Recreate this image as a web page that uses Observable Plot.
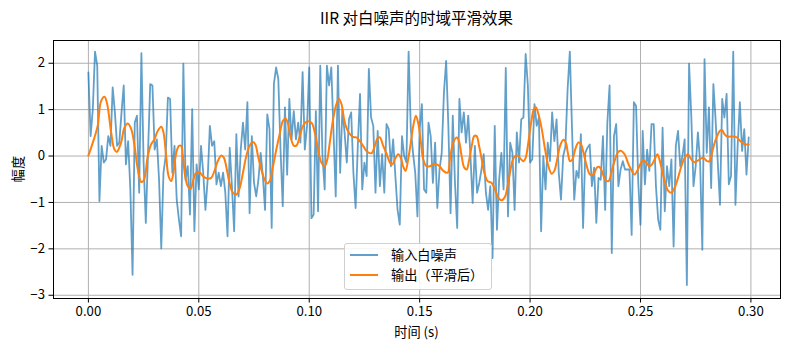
<!DOCTYPE html>
<html><head><meta charset="utf-8">
<script src="https://cdn.jsdelivr.net/npm/d3@7"></script>
<script src="https://cdn.jsdelivr.net/npm/@observablehq/plot@0.6"></script>
<style>
body{margin:0;background:#fff;font-family:"Noto Sans CJK SC","Noto Sans",sans-serif;}
#wrap{position:relative;width:790px;height:350px;overflow:hidden;}
#title{position:absolute;top:7px;left:53px;width:727px;text-align:center;font-size:15.5px;color:#000;line-height:20px;}
#xlabel{position:absolute;top:323px;left:53px;width:727px;text-align:center;font-size:13.2px;line-height:18px;}
#ylabel{position:absolute;left:18px;top:169px;font-size:13.2px;line-height:18px;transform:translate(-50%,-50%) rotate(-90deg);white-space:nowrap;}
#legend{position:absolute;left:344px;top:243px;width:146px;height:45px;border:1px solid #d0d0d0;border-radius:3px;background:rgba(255,255,255,0.85);font-size:13.2px;}
.li{position:absolute;left:0;height:18px;line-height:18px;white-space:nowrap;}
.sw{position:absolute;left:5px;top:8px;width:28px;height:2px;}
.lt{position:absolute;left:46px;top:0;}
</style></head><body>
<div id="wrap">
<div id="chart"></div>
<div id="title">IIR 对白噪声的时域平滑效果</div>
<div id="xlabel">时间 (s)</div>
<div id="ylabel">幅度</div>
<div id="legend">
 <div class="li" style="top:2px"><div class="sw" style="background:#1f77b4;opacity:0.7"></div><span class="lt">输入白噪声</span></div>
 <div class="li" style="top:22px"><div class="sw" style="background:#ff7f0e"></div><span class="lt">输出（平滑后）</span></div>
</div>
</div>
<script>
// input white noise, one sample per ms (0 .. 0.299 s)
const noise = [
1.80,0.43,1.01,2.25,1.95,-0.97,0.22,-0.14,-0.07,0.43,
0.22,1.48,0.94,0.22,0.29,0.94,1.52,-0.18,0.32,-0.72,
-2.56,0.72,0.87,-0.79,2.22,-0.14,-1.44,0.07,1.55,1.52,
0.14,0.36,-0.51,-1.99,-0.36,0.00,1.26,1.23,-0.36,0.22,
-0.94,-1.37,-1.73,1.99,-0.51,-0.22,-1.26,1.01,-1.62,-0.18,
-0.72,0.22,-0.36,-1.16,-0.51,0.65,0.22,0.32,-0.61,-0.36,
-0.65,-0.36,-0.79,-1.73,0.18,-0.65,-1.62,0.47,-0.87,0.14,
0.72,0.14,1.16,-1.23,0.43,-0.58,-0.87,-0.51,0.07,-0.43,
-1.16,0.90,0.58,-1.55,1.55,1.91,1.66,0.14,-1.08,1.05,
-0.40,1.23,0.36,0.97,0.36,0.72,0.29,1.81,0.14,0.65,
1.91,-1.34,-1.26,0.97,-1.19,1.95,0.00,-0.72,1.95,1.52,
1.91,0.51,-0.87,1.95,-0.36,1.01,0.51,-0.14,0.79,0.94,
-0.36,-1.12,0.22,1.34,-0.72,-0.14,-0.43,1.88,0.83,0.65,
-0.79,0.54,-0.65,0.04,-0.79,0.69,0.58,-0.22,0.36,-0.43,
-1.16,-1.48,0.43,0.00,-0.14,2.25,0.58,0.07,-0.36,-1.30,
0.58,1.12,-0.72,-0.79,0.72,0.43,-0.58,0.29,-1.12,-0.29,
0.07,1.37,2.05,0.65,-1.23,0.87,-0.58,-1.55,1.23,0.51,
0.94,0.29,0.87,0.00,-1.01,0.22,-0.79,-0.58,-0.29,0.04,
-0.79,-1.16,-0.65,-2.20,0.65,-1.59,-0.51,0.07,-0.72,1.90,
-1.30,0.29,0.07,-1.16,0.51,-0.14,0.79,0.83,2.20,1.52,
-0.14,-0.07,1.12,0.65,0.83,-1.62,0.00,-0.72,0.29,-0.11,
0.94,0.32,0.79,-0.36,-0.94,0.00,0.20,1.44,2.25,0.58,
-0.94,-0.32,-0.47,0.47,-1.55,0.07,0.18,0.25,-0.65,-0.25,
-1.44,-0.47,-0.51,0.43,-1.16,0.72,1.52,-2.09,0.43,0.69,
-0.65,-0.29,-0.11,-0.29,-0.29,-0.29,-1.70,1.16,1.08,-0.58,
-1.48,0.54,-0.61,0.14,-0.32,0.69,0.69,-0.65,-1.37,-1.59,
0.61,-1.19,-0.22,-0.65,-0.07,-1.95,0.22,0.54,-0.22,0.00,
0.36,-2.78,1.99,0.87,-0.65,-0.22,0.51,-0.14,-2.02,2.09,
0.07,1.05,-0.69,1.55,0.79,-0.14,-1.05,1.23,0.83,1.34,
-0.61,-0.43,2.25,-1.05,0.22,1.16,0.11,0.58,-0.40,0.40
];
const sampleStep = 0.001;

// smoothed output, read at knots (time in s, amplitude)
const outT = [
0.0000,0.0020,0.0042,0.0057,0.0073,0.0085,0.0103,0.0118,0.0129,0.0148,
0.0163,0.0178,0.0194,0.0209,0.0224,0.0239,0.0251,0.0269,0.0284,0.0299,
0.0314,0.0330,0.0340,0.0352,0.0363,0.0375,0.0385,0.0398,0.0410,0.0420,
0.0428,0.0438,0.0450,0.0463,0.0475,0.0488,0.0503,0.0518,0.0535,0.0556,
0.0571,0.0586,0.0602,0.0614,0.0624,0.0639,0.0654,0.0670,0.0685,0.0700,
0.0715,0.0730,0.0745,0.0756,0.0768,0.0783,0.0798,0.0810,0.0821,0.0836,
0.0851,0.0866,0.0881,0.0893,0.0904,0.0916,0.0931,0.0943,0.0957,0.0972,
0.0987,0.1010,0.1025,0.1040,0.1055,0.1070,0.1082,0.1093,0.1108,0.1123,
0.1135,0.1146,0.1158,0.1168,0.1184,0.1199,0.1214,0.1229,0.1244,0.1259,
0.1282,0.1297,0.1309,0.1320,0.1335,0.1351,0.1365,0.1376,0.1388,0.1403,
0.1415,0.1425,0.1436,0.1448,0.1460,0.1471,0.1483,0.1493,0.1506,0.1516,
0.1531,0.1546,0.1561,0.1577,0.1592,0.1607,0.1627,0.1637,0.1652,0.1668,
0.1678,0.1690,0.1702,0.1713,0.1723,0.1736,0.1747,0.1758,0.1769,0.1781,
0.1793,0.1808,0.1826,0.1841,0.1856,0.1872,0.1887,0.1898,0.1909,0.1920,
0.1932,0.1944,0.1959,0.1970,0.1980,0.1992,0.2005,0.2017,0.2026,0.2038,
0.2053,0.2068,0.2083,0.2098,0.2110,0.2121,0.2136,0.2151,0.2162,0.2171,
0.2181,0.2192,0.2204,0.2219,0.2231,0.2242,0.2257,0.2272,0.2287,0.2302,
0.2313,0.2325,0.2340,0.2355,0.2370,0.2385,0.2400,0.2413,0.2428,0.2446,
0.2461,0.2473,0.2488,0.2503,0.2514,0.2525,0.2540,0.2552,0.2567,0.2577,
0.2588,0.2600,0.2612,0.2624,0.2639,0.2654,0.2670,0.2685,0.2700,0.2715,
0.2726,0.2741,0.2756,0.2771,0.2786,0.2801,0.2812,0.2824,0.2836,0.2847,
0.2859,0.2869,0.2880,0.2892,0.2907,0.2922,0.2937,0.2952,0.2967,0.2978,
0.2990
];
const outV = [
0.01,0.29,0.65,1.18,1.28,1.12,0.51,0.14,0.09,0.29,
0.61,0.70,0.58,0.22,-0.29,-0.56,-0.52,0.00,0.25,0.36,
0.54,0.63,0.51,0.00,-0.43,-0.54,-0.36,0.07,0.22,0.22,
0.00,-0.43,-0.65,-0.71,-0.51,-0.36,-0.35,-0.43,-0.48,-0.47,
-0.32,-0.11,0.01,-0.04,-0.22,-0.58,-0.79,-0.83,-0.69,-0.36,
0.00,0.22,0.30,0.25,0.00,-0.29,-0.51,-0.59,-0.54,-0.22,
0.14,0.47,0.76,0.81,0.69,0.40,0.22,0.23,0.43,0.65,
0.74,0.72,0.51,0.14,-0.14,-0.22,-0.07,0.29,0.79,1.12,
1.23,1.12,0.79,0.61,0.47,0.41,0.40,0.32,0.22,0.11,
0.06,0.22,0.38,0.40,0.22,0.04,-0.14,-0.18,-0.07,0.04,
-0.04,-0.22,-0.32,-0.07,0.29,0.65,0.87,0.72,0.29,-0.07,
-0.22,-0.22,-0.18,-0.18,-0.23,-0.32,-0.36,-0.07,0.29,0.40,
0.32,0.00,-0.25,-0.29,-0.11,0.22,0.43,0.43,0.22,-0.07,
-0.36,-0.54,-0.58,-0.72,-0.90,-0.95,-0.87,-0.65,-0.36,-0.11,
0.00,0.01,-0.07,-0.11,-0.04,0.29,0.72,1.01,1.05,0.90,
0.58,0.14,-0.22,-0.38,-0.32,-0.11,0.22,0.35,0.29,0.07,
-0.11,-0.07,0.14,0.29,0.25,0.07,-0.22,-0.40,-0.40,-0.25,
-0.23,-0.32,-0.51,-0.54,-0.32,-0.07,0.09,0.11,0.04,-0.18,
-0.32,-0.40,-0.29,-0.14,-0.09,-0.14,-0.22,-0.18,-0.04,0.04,
-0.11,-0.36,-0.58,-0.74,-0.79,-0.69,-0.47,-0.22,-0.04,0.04,
-0.04,-0.13,-0.11,-0.06,-0.04,-0.11,-0.11,0.07,0.29,0.43,
0.54,0.56,0.47,0.42,0.42,0.42,0.40,0.32,0.27,0.25,
0.25
];

const xTicks = [0, 0.05, 0.10, 0.15, 0.20, 0.25, 0.30];
const yTicks = [-3, -2, -1, 0, 1, 2];

const inData = noise.map((v, i) => ({t: i * sampleStep, v}));
const outData = outT.map((t, i) => ({t, v: outV[i]}));

const chart = Plot.plot({
  width: 790,
  height: 350,
  marginLeft: 53,
  marginRight: 10,
  marginTop: 40,
  marginBottom: 52,
  style: {fontFamily: '"Noto Sans CJK SC","Noto Sans",sans-serif', fontSize: "13.2px", color: "#000", background: "#fff"},
  x: {domain: [-0.0158, 0.3134]},
  y: {domain: [-3.07, 2.49]},
  marks: [
    Plot.gridX(xTicks, {stroke: "#b0b0b0", strokeOpacity: 1, strokeWidth: 1}),
    Plot.gridY(yTicks, {stroke: "#b0b0b0", strokeOpacity: 1, strokeWidth: 1}),
    Plot.line(inData, {x: "t", y: "v", stroke: "#1f77b4", strokeOpacity: 0.7, strokeWidth: 1.8}),
    Plot.line(outData, {x: "t", y: "v", stroke: "#ff7f0e", strokeWidth: 2, curve: "catmull-rom"}),
    Plot.frame({stroke: "#000", strokeWidth: 1}),
    Plot.axisX(xTicks, {tickFormat: d3.format(".2f"), tickSize: 4.5, tickPadding: 4, label: null, fontSize: 13.2}),
    Plot.axisY(yTicks, {tickFormat: d => d < 0 ? "\u2212" + Math.abs(d) : String(d), tickSize: 4.5, tickPadding: 4, label: null, fontSize: 13.2})
  ]
});
document.getElementById("chart").appendChild(chart);
</script>
</body></html>
